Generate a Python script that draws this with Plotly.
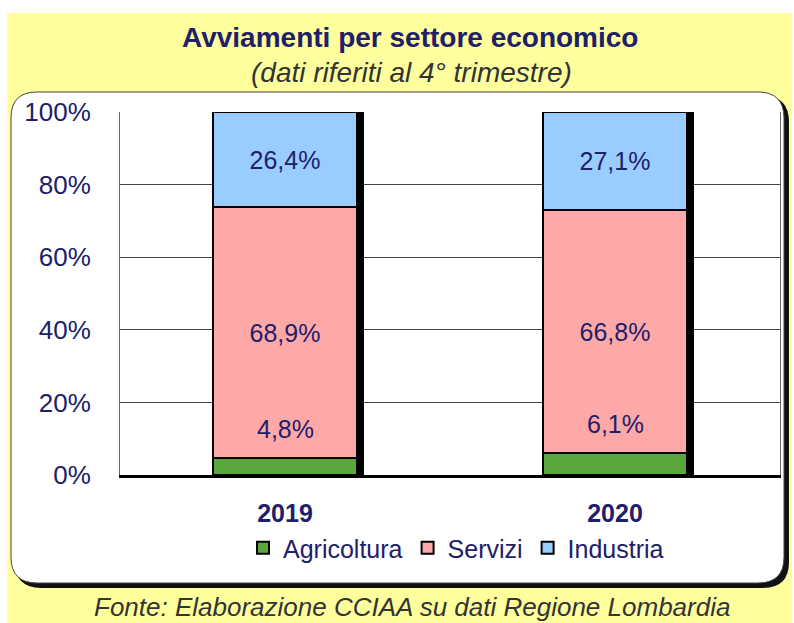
import plotly.graph_objects as go

years = ["2019", "2020"]
agricoltura = [4.8, 6.1]
servizi = [68.9, 66.8]
industria = [26.4, 27.1]
tick_vals = [0, 20, 40, 60, 80, 100]
tick_text = ["0%", "20%", "40%", "60%", "80%", "100%"]

GREEN, PINK, BLUE = "#5aa83c", "#ffa8a8", "#99ccff"
NAVY = "#20206a"
FONT = "Liberation Sans, Arial, sans-serif"
W, H = 794, 623
L, R, T, B = 120, 14, 112, 148
BW = 0.436


def lab(v):
    return f"{v:.1f}".replace(".", ",") + "%"


def px(x, y):
    # pixel position -> paper coords
    return (x - L) / (W - L - R), (H - B - y) / (H - T - B)


def rounded(x0, y0, x1, y1, r):
    pts = [(x0 + r, y0), (x1 - r, y0), (x1, y0), (x1, y0 + r), (x1, y1 - r), (x1, y1),
           (x1 - r, y1), (x0 + r, y1), (x0, y1), (x0, y1 - r), (x0, y0 + r), (x0, y0)]
    p = [px(*q) for q in pts]
    f = lambda q: f"{q[0]:.5f},{q[1]:.5f}"
    return (f"M{f(p[0])} L{f(p[1])} Q{f(p[2])} {f(p[3])} L{f(p[4])} Q{f(p[5])} {f(p[6])} "
            f"L{f(p[7])} Q{f(p[8])} {f(p[9])} L{f(p[10])} Q{f(p[11])} {f(p[0])} Z")


base_srv = agricoltura
base_ind = [a + s for a, s in zip(agricoltura, servizi)]
totals = [a + s + i for a, s, i in zip(agricoltura, servizi, industria)]

fig = go.Figure()
# drop shadow behind each column
fig.add_trace(go.Bar(x=years, y=totals, width=BW, offset=-BW / 2 + 0.02,
                     marker=dict(color="black", line=dict(width=0)),
                     showlegend=False, hoverinfo="skip"))
line = dict(color="black", width=2)
fig.add_trace(go.Bar(x=years, y=agricoltura, name="Agricoltura", width=BW, offset=-BW / 2,
                     marker=dict(color=GREEN, line=line), hoverinfo="skip"))
fig.add_trace(go.Bar(x=years, y=servizi, base=base_srv, name="Servizi", width=BW, offset=-BW / 2,
                     marker=dict(color=PINK, line=line), hoverinfo="skip",
                     text=[lab(v) for v in servizi], textposition="inside",
                     insidetextanchor="middle", textangle=0,
                     textfont=dict(size=25, color=NAVY, family=FONT)))
fig.add_trace(go.Bar(x=years, y=industria, base=base_ind, name="Industria", width=BW, offset=-BW / 2,
                     marker=dict(color=BLUE, line=line), hoverinfo="skip",
                     text=[lab(v) for v in industria], textposition="inside",
                     insidetextanchor="middle", textangle=0,
                     textfont=dict(size=25, color=NAVY, family=FONT)))

# agricoltura labels sit just above the thin green segment (category index on x)
for i, v in enumerate(agricoltura):
    fig.add_annotation(x=i, y=v + 8, text=lab(v), showarrow=False,
                       font=dict(size=25, color=NAVY, family=FONT))

# yellow backdrop and white rounded panel with shadow
x0, y0 = px(7, 13)
x1, y1 = px(792, 623)
fig.add_shape(type="rect", xref="paper", yref="paper", x0=x0, y0=y0, x1=x1, y1=y1,
              fillcolor="#ffff9e", line=dict(width=0), layer="below")
fig.add_shape(type="path", xref="paper", yref="paper", path=rounded(15, 96, 789, 588, 26),
              fillcolor="#111111", line=dict(width=0), layer="below")
fig.add_shape(type="path", xref="paper", yref="paper", path=rounded(11, 92, 784, 583, 26),
              fillcolor="white", line=dict(color="#444444", width=1), layer="below")


def note(x, y, text, size, color):
    ax, ay = px(x, y)
    fig.add_annotation(xref="paper", yref="paper", x=ax, y=ay, xanchor="center",
                       yanchor="middle", showarrow=False, text=text,
                       font=dict(size=size, color=color, family=FONT))


note(410, 38, "<b>Avviamenti per settore economico</b>", 28, NAVY)
note(411, 73, "<i>(dati riferiti al 4° trimestre)</i>", 28, "#333333")
note(412, 607, "<i>Fonte: Elaborazione CCIAA su dati Regione Lombardia</i>", 26, "#333333")

lx, ly = px(456, 548)
fig.update_layout(
    width=W, height=H, margin=dict(l=L, r=R, t=T, b=B, autoexpand=False),
    paper_bgcolor="white", plot_bgcolor="#f3f3f3",
    barmode="overlay", bargap=0,
    font=dict(family=FONT, color=NAVY, size=20),
    showlegend=True,
    legend=dict(orientation="h", x=lx, y=ly, xanchor="center", yanchor="middle",
                bgcolor="rgba(0,0,0,0)", font=dict(size=25, color=NAVY, family=FONT),
                traceorder="normal", itemwidth=30),
    uniformtext=dict(minsize=20, mode="show"),
)
fig.update_yaxes(range=[0, 100], tickvals=tick_vals, ticktext=tick_text, ticks="",
                 ticklabelstandoff=23, showgrid=True, gridcolor="#444444", gridwidth=1,
                 showline=True, linecolor="#666666", linewidth=1, mirror=True,
                 zeroline=False, tickfont=dict(size=26, color=NAVY))
fig.update_xaxes(type="category", range=[-0.5, 1.5], showline=True, linecolor="black",
                 linewidth=3, ticks="", ticklabelstandoff=14, tickfont=dict(size=25, color=NAVY),
                 tickprefix="<b>", ticksuffix="</b>")

fig.write_html("out.html", config={"displayModeBar": False},
               post_script="document.body.style.margin='0';")
